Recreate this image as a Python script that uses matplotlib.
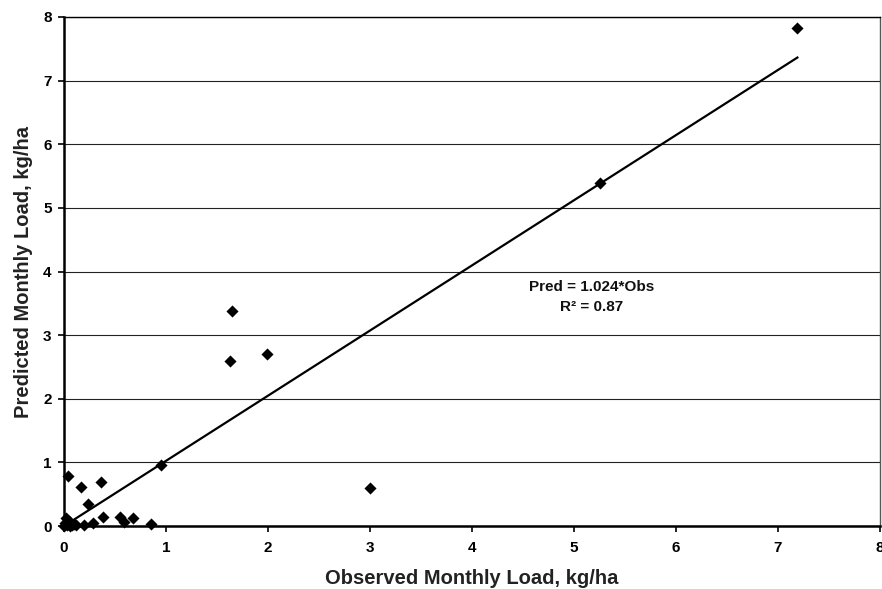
import matplotlib
matplotlib.use("Agg")
import matplotlib.pyplot as plt
import numpy as np

plt.rcParams['font.family'] = ['Liberation Sans', 'DejaVu Sans']

observed = [7.19, 5.25, 1.65, 1.63, 1.99, 3.00, 0.95, 0.04, 0.17, 0.36, 0.24,
            0.38, 0.55, 0.59, 0.68, 0.85, 0.28, 0.20, 0.00, 0.01, 0.02, 0.03,
            0.06, 0.08, 0.10, 0.12, 0.05]
predicted = [7.83, 5.39, 3.38, 2.59, 2.70, 0.60, 0.96, 0.78, 0.61, 0.69, 0.35,
             0.14, 0.14, 0.06, 0.12, 0.03, 0.04, 0.02, 0.00, 0.05, 0.12, 0.02,
             0.00, 0.02, 0.03, 0.01, 0.08]
slope = 1.024
r2 = 0.87
x_ticks = [0, 1, 2, 3, 4, 5, 6, 7, 8]
y_ticks = [0, 1, 2, 3, 4, 5, 6, 7, 8]

fig = plt.figure(figsize=(8.82, 5.89), dpi=100)
ax = fig.add_axes([64/882, 1-526/589, (880-64)/882, (526-17)/589])

ax.set_xlim(0, 8)
ax.set_ylim(0, 8)
ax.yaxis.grid(True, color='#222222', linewidth=0.8)
ax.set_axisbelow(True)

xl = np.array([0, max(observed)])
ax.plot(xl, slope*xl, color='black', linewidth=1.6, zorder=3)
ax.scatter(observed, predicted, marker='D', s=38, color='black', zorder=4,
           linewidths=0, clip_on=False)

ax.text(5.17, 3.6, f"Pred = {slope:.3f}*Obs\nR² = {r2:.2f}",
        ha='center', va='center', fontsize=11, fontweight='bold', linespacing=1.5,
        color='#111111')

ax.set_xticks(x_ticks)
ax.set_yticks(y_ticks)
ax.set_xticklabels([str(t) for t in x_ticks], fontsize=11, fontweight='bold')
ax.set_yticklabels([str(t) for t in y_ticks], fontsize=11, fontweight='bold')
ax.tick_params(axis='x', direction='out', length=4, width=1.2, pad=7)
ax.tick_params(axis='y', direction='out', length=4, width=1.2, pad=5)

for s in ['left', 'bottom']:
    ax.spines[s].set_linewidth(1.8)
ax.spines['top'].set_linewidth(1.0)
ax.spines['right'].set_linewidth(1.0)
ax.spines['right'].set_color('#555555')

ax.set_xlabel('Observed Monthly Load, kg/ha', fontsize=14.5, fontweight='bold',
              color='#222222', labelpad=10)
ax.set_ylabel('Predicted Monthly Load, kg/ha', fontsize=14.5, fontweight='bold',
              color='#222222', labelpad=7)

fig.savefig('out.png', dpi=100)
